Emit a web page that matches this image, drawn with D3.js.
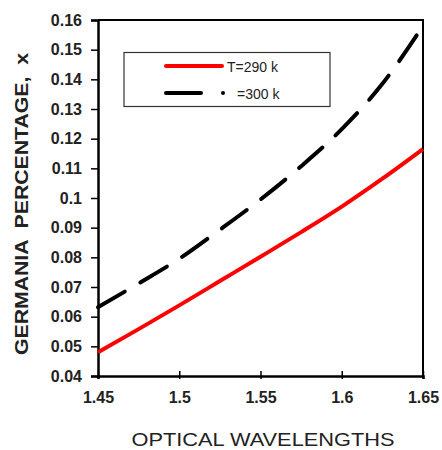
<!DOCTYPE html>
<html>
<head>
<meta charset="utf-8">
<script src="https://cdn.jsdelivr.net/npm/d3@7"></script>
<style>
  body { margin: 0; background: #fff; }
  svg { display: block; font-family: "Liberation Sans", Arial, sans-serif; }
</style>
</head>
<body>
<script>
// wavelengths (x) and germania fraction for the two temperatures
const wavelengths = [1.45, 1.475, 1.5, 1.525, 1.55, 1.575, 1.6, 1.625, 1.65];
const t290 = [0.048, 0.0558, 0.0638, 0.072, 0.0802, 0.0885, 0.0971, 0.1065, 0.1165];
const t300 = [0.0632, 0.0712, 0.0795, 0.0893, 0.0995, 0.1107, 0.1232, 0.1385, 0.158];
const xTicks = [1.45, 1.5, 1.55, 1.6, 1.65];
const yTicks = [0.04, 0.05, 0.06, 0.07, 0.08, 0.09, 0.1, 0.11, 0.12, 0.13, 0.14, 0.15, 0.16];
const legendLabels = ['T=290 k', '=300 k'];

const width = 442, height = 450;
const margin = { top: 20, right: 19, bottom: 74, left: 98 };

const svg = d3.select('body')
    .append('svg')
    .attr('width', width)
    .attr('height', height);

const x = d3.scaleLinear()
    .domain([1.45, 1.65])
    .range([margin.left, width - margin.right]);

const y = d3.scaleLinear()
    .domain([0.04, 0.16])
    .range([height - margin.bottom, margin.top]);

// frame (top + right)
svg.append('path')
    .attr('d', `M${x(1.45)},${y(0.16)}H${x(1.65)}V${y(0.04)}`)
    .attr('fill', 'none')
    .attr('stroke', '#000')
    .attr('stroke-width', 2);

const xAxis = svg.append('g')
    .attr('transform', `translate(0,${y(0.04)})`)
    .call(d3.axisBottom(x).tickValues(xTicks).tickSize(3).tickPadding(13).tickFormat(d3.format('')));
xAxis.selectAll('.tick line').attr('y1', -5).attr('y2', 3).attr('stroke-width', 1.5);

const yAxis = svg.append('g')
    .attr('transform', `translate(${x(1.45)},0)`)
    .call(d3.axisLeft(y).tickValues(yTicks).tickSize(7).tickPadding(9).tickFormat(d3.format('')));
yAxis.selectAll('.tick line').attr('stroke-width', 1.5);

[xAxis, yAxis].forEach(g => {
    g.select('.domain').attr('stroke-width', 2.5);
    g.selectAll('.tick text')
        .attr('font-size', 16)
        .attr('font-weight', 'bold')
        .attr('font-family', '"Liberation Sans", Arial, sans-serif')
        .attr('fill', '#222');
});

const line = d3.line()
    .x((d, i) => x(wavelengths[i]))
    .y(d => y(d))
    .curve(d3.curveMonotoneX);

svg.append('path')
    .datum(t290)
    .attr('fill', 'none')
    .attr('stroke', '#ff0000')
    .attr('stroke-width', 4)
    .attr('d', line);

svg.append('path')
    .datum(t300)
    .attr('fill', 'none')
    .attr('stroke', '#000')
    .attr('stroke-width', 4)
    .attr('stroke-linecap', 'round')
    .attr('stroke-dasharray', '31,18')
    .attr('d', line);

// legend
const legend = svg.append('g');
legend.append('rect')
    .attr('x', 124).attr('y', 52.5)
    .attr('width', 206).attr('height', 54)
    .attr('fill', '#fff')
    .attr('stroke', '#333')
    .attr('stroke-width', 1.2);
legend.append('line')
    .attr('x1', 166).attr('x2', 222).attr('y1', 66).attr('y2', 66)
    .attr('stroke', '#ff0000').attr('stroke-width', 4).attr('stroke-linecap', 'round');
legend.append('line')
    .attr('x1', 166).attr('x2', 201).attr('y1', 93).attr('y2', 93)
    .attr('stroke', '#000').attr('stroke-width', 4).attr('stroke-linecap', 'round');
legend.append('circle')
    .attr('cx', 223).attr('cy', 93).attr('r', 2)
    .attr('fill', '#000');
legend.selectAll('text.lab')
    .data(legendLabels)
    .enter()
    .append('text')
    .attr('class', 'lab')
    .attr('x', (d, i) => i === 0 ? 227 : 237)
    .attr('y', (d, i) => i === 0 ? 71.5 : 98.5)
    .attr('font-size', 14)
    .attr('fill', '#222')
    .text(d => d);

// axis titles
svg.append('text')
    .attr('x', 263)
    .attr('y', 446)
    .attr('text-anchor', 'middle')
    .attr('font-size', 18.5)
    .attr('fill', '#222')
    .attr('textLength', 263)
    .attr('lengthAdjust', 'spacingAndGlyphs')
    .text('OPTICAL WAVELENGTHS');

svg.append('text')
    .attr('transform', 'translate(28,204) rotate(-90)')
    .attr('text-anchor', 'middle')
    .attr('font-size', 18)
    .attr('font-weight', 'bold')
    .attr('fill', '#222')
    .style('white-space', 'pre')
    .attr('textLength', 302)
    .attr('lengthAdjust', 'spacingAndGlyphs')
    .text('GERMANIA  PERCENTAGE,  x');
</script>
</body>
</html>
